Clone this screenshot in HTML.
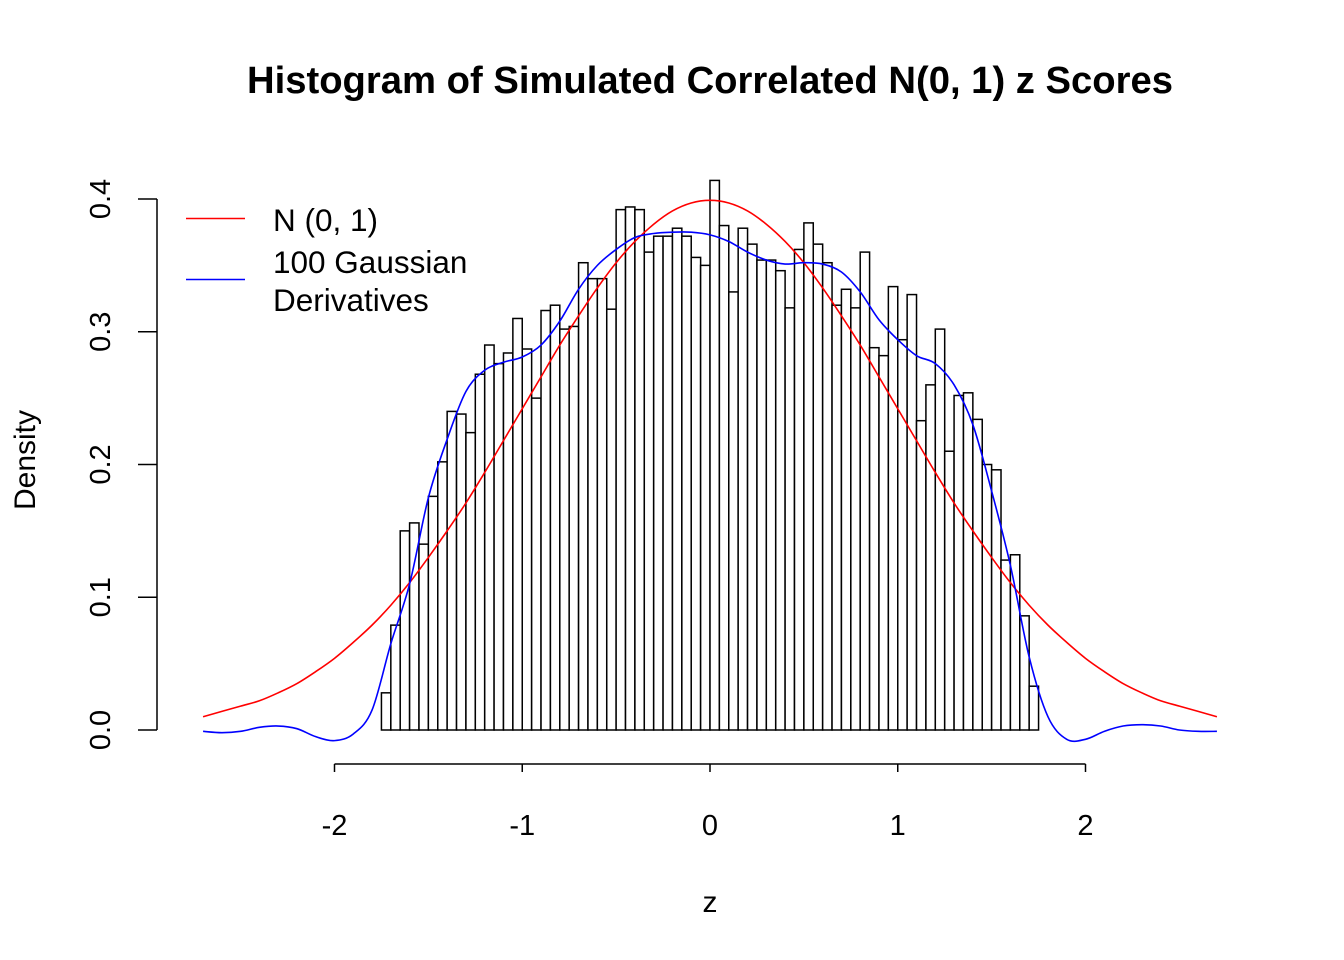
<!DOCTYPE html>
<html><head><meta charset="utf-8"><style>
html,body{margin:0;padding:0;background:#fff;}
svg{display:block;font-family:"Liberation Sans",Arial,sans-serif;}
</style></head><body>
<svg id="chart" width="1344" height="960" viewBox="0 0 1344 960" xmlns="http://www.w3.org/2000/svg">
<rect x="0" y="0" width="1344" height="960" fill="#fff"/>
<text x="710" y="93" text-anchor="middle" style="font-size:38px;font-weight:bold" textLength="926" lengthAdjust="spacingAndGlyphs">Histogram of Simulated Correlated N(0, 1) z Scores</text>
<g id="bars"></g>
<g id="curves"></g>
<g id="axes"></g>
<text x="710" y="912" text-anchor="middle" style="font-size:30px">z</text>
<text transform="translate(35,460) rotate(-90)" text-anchor="middle" style="font-size:30px">Density</text>
<g>
<line x1="186" y1="218.5" x2="245" y2="218.5" stroke="#ff0000" stroke-width="1.5"/>
<text x="273" y="231" style="font-size:31.5px">N (0, 1)</text>
<line x1="186" y1="279.5" x2="245" y2="279.5" stroke="#0000ff" stroke-width="1.5"/>
<text x="273" y="273" style="font-size:31.5px">100 Gaussian</text>
<text x="273" y="311" style="font-size:31.5px">Derivatives</text>
</g>
</svg>
<script>
const binStart = -1.75;
const binWidth = 0.05;
const densities = [0.028,0.079,0.150,0.156,0.140,0.176,0.202,0.240,0.238,0.224,
0.268,0.290,0.276,0.284,0.310,0.287,0.250,0.316,0.320,0.302,
0.304,0.352,0.340,0.340,0.317,0.392,0.394,0.392,0.360,0.372,
0.372,0.378,0.372,0.356,0.350,0.414,0.380,0.330,0.378,0.366,
0.354,0.354,0.346,0.318,0.362,0.382,0.366,0.352,0.320,0.332,
0.318,0.360,0.288,0.282,0.334,0.294,0.328,0.233,0.260,0.302,
0.210,0.252,0.254,0.234,0.200,0.196,0.128,0.132,0.086,0.033];
const curveX = [-2.7,-2.6,-2.5,-2.4,-2.3,-2.2,-2.1,-2.0,-1.9,-1.8,-1.7,-1.6,-1.5,-1.4,-1.3,-1.2,-1.1,-1.0,-0.9,-0.8,-0.7,-0.6,-0.5,-0.4,-0.3,-0.2,-0.1,0,0.1,0.2,0.3,0.4,0.5,0.6,0.7,0.8,0.9,1.0,1.1,1.2,1.3,1.4,1.5,1.6,1.7,1.8,1.9,2.0,2.1,2.2,2.3,2.4,2.5,2.6,2.7];
const normalY = [0.010,0.014,0.018,0.022,0.028,0.035,0.044,0.054,0.066,0.079,0.094,0.111,0.130,0.150,0.171,0.194,0.218,0.242,0.266,0.290,0.312,0.333,0.352,0.368,0.381,0.391,0.397,0.399,0.397,0.391,0.381,0.368,0.352,0.333,0.312,0.290,0.266,0.242,0.218,0.194,0.171,0.150,0.130,0.111,0.094,0.079,0.066,0.054,0.044,0.035,0.028,0.022,0.018,0.014,0.010];
const gaussY = [-0.001,-0.002,-0.001,0.002,0.003,0.001,-0.005,-0.008,-0.003,0.015,0.065,0.110,0.175,0.219,0.255,0.271,0.277,0.281,0.290,0.308,0.332,0.350,0.362,0.371,0.374,0.375,0.375,0.373,0.368,0.360,0.354,0.351,0.352,0.351,0.345,0.330,0.309,0.294,0.282,0.276,0.260,0.230,0.180,0.124,0.055,0.010,-0.007,-0.007,-0.001,0.003,0.004,0.003,0.000,-0.001,-0.001];
const xTicks = [-2,-1,0,1,2];
const yTicks = [0.0,0.1,0.2,0.3,0.4];
const yTickLabels = ["0.0","0.1","0.2","0.3","0.4"];

const NS = "http://www.w3.org/2000/svg";
const xs = z => 710 + z * 187.75;
const ys = v => 730 - v * 1327.5;
function mk(tag, attrs, parent){const e=document.createElementNS(NS,tag);for(const k in attrs)e.setAttribute(k,attrs[k]);parent.appendChild(e);return e;}

const gb = document.getElementById('bars');
densities.forEach((d,i)=>{
  const x0 = xs(binStart + i*binWidth), x1 = xs(binStart + (i+1)*binWidth);
  const r = mk('rect',{x:x0,y:ys(d),width:x1-x0,height:ys(0)-ys(d),fill:'#fff',stroke:'#000','stroke-width':1.5},gb);
  
  
});

const gc = document.getElementById('curves');
function line(arr,color,name){
  const P = curveX.map((x,i)=>[xs(x),ys(arr[i])]);
  let d = 'M'+P[0][0].toFixed(2)+','+P[0][1].toFixed(2);
  for(let i=0;i<P.length-1;i++){
    const p0=P[Math.max(i-1,0)],p1=P[i],p2=P[i+1],p3=P[Math.min(i+2,P.length-1)];
    const c1=[p1[0]+(p2[0]-p0[0])/6,p1[1]+(p2[1]-p0[1])/6];
    const c2=[p2[0]-(p3[0]-p1[0])/6,p2[1]-(p3[1]-p1[1])/6];
    d+=' C'+c1[0].toFixed(2)+','+c1[1].toFixed(2)+' '+c2[0].toFixed(2)+','+c2[1].toFixed(2)+' '+p2[0].toFixed(2)+','+p2[1].toFixed(2);
  }
  const p = mk('path',{d:d,fill:'none',stroke:color,'stroke-width':1.6,'stroke-linejoin':'round'},gc);
  
  
}
line(normalY,'#ff0000','normal-density-curve');
line(gaussY,'#0000ff','gaussian-derivatives-curve');

const ga = document.getElementById('axes');
const xl = mk('line',{x1:xs(xTicks[0]),y1:764,x2:xs(xTicks[xTicks.length-1]),y2:764,stroke:'#000','stroke-width':1.5},ga);


xTicks.forEach(t=>{
  const tk = mk('line',{x1:xs(t),y1:764,x2:xs(t),y2:772,stroke:'#000','stroke-width':1.5},ga);
  
  
  const tx = mk('text',{x:xs(t),y:835,'text-anchor':'middle',style:'font-size:29px'},ga);
  tx.textContent = String(t);
  
  
});
const yl = mk('line',{x1:157,y1:ys(yTicks[0]),x2:157,y2:ys(yTicks[yTicks.length-1]),stroke:'#000','stroke-width':1.5},ga);


yTicks.forEach((t,i)=>{
  const tk = mk('line',{x1:138,y1:ys(t),x2:157,y2:ys(t),stroke:'#000','stroke-width':1.5},ga);
  
  
  const tx = mk('text',{transform:'translate(110,'+ys(t)+') rotate(-90)','text-anchor':'middle',style:'font-size:29px'},ga);
  tx.textContent = yTickLabels[i];
  
  
});
</script>
</body></html>
